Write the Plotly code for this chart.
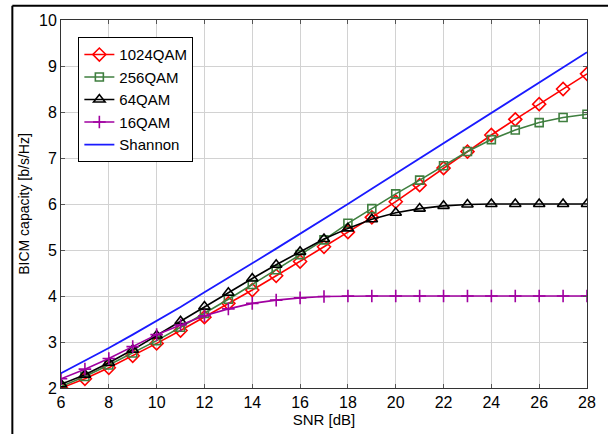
import plotly.graph_objects as go

# SNR grid in dB
snr_db = list(range(6, 29))

# BICM capacity in b/s/Hz for each constellation, plus the Shannon bound
cap_1024qam = [2.00, 2.20, 2.44, 2.70, 2.97, 3.25, 3.54, 3.84, 4.13, 4.44, 4.75, 5.07,
               5.39, 5.71, 6.05, 6.41, 6.78, 7.14, 7.50, 7.84, 8.17, 8.50, 8.83]
cap_256qam = [2.03, 2.25, 2.50, 2.76, 3.03, 3.32, 3.62, 3.93, 4.25, 4.57, 4.90, 5.22,
              5.58, 5.90, 6.22, 6.52, 6.83, 7.14, 7.40, 7.61, 7.77, 7.88, 7.95]
cap_64qam = [2.08, 2.29, 2.55, 2.83, 3.14, 3.45, 3.77, 4.07, 4.38, 4.68, 4.96, 5.24,
             5.47, 5.67, 5.81, 5.90, 5.96, 5.99, 6.00, 6.00, 6.00, 6.00, 6.00]
cap_16qam = [2.20, 2.41, 2.64, 2.90, 3.16, 3.37, 3.57, 3.72, 3.84, 3.91, 3.96, 3.99,
             4.00, 4.00, 4.00, 4.00, 4.00, 4.00, 4.00, 4.00, 4.00, 4.00, 4.00]
cap_shannon = [2.32, 2.59, 2.87, 3.16, 3.46, 3.76, 4.08, 4.39, 4.71, 5.03, 5.35, 5.68,
               6.00, 6.33, 6.66, 6.99, 7.32, 7.65, 7.98, 8.31, 8.64, 8.97, 9.30]

x_ticks = list(range(6, 29, 2))
y_ticks = list(range(2, 11))

FONT = '"Liberation Sans", Arial, sans-serif'

fig = go.Figure()

fig.add_trace(go.Scatter(
    x=snr_db, y=cap_1024qam, name="1024QAM", mode="lines+markers",
    line=dict(color="#ff0000", width=1.6),
    marker=dict(symbol="diamond-open", size=10, color="#ff0000", line=dict(width=1.6)),
))
fig.add_trace(go.Scatter(
    x=snr_db, y=cap_256qam, name="256QAM", mode="lines+markers",
    line=dict(color="#3f7f3f", width=1.6),
    marker=dict(symbol="square-open", size=8, color="#3f7f3f", line=dict(width=1.6)),
))
fig.add_trace(go.Scatter(
    x=snr_db, y=cap_64qam, name="64QAM", mode="lines+markers",
    line=dict(color="#000000", width=1.6),
    marker=dict(symbol="triangle-up-open", size=10, color="#000000", line=dict(width=1.6)),
))
fig.add_trace(go.Scatter(
    x=snr_db, y=cap_16qam, name="16QAM", mode="lines+markers",
    line=dict(color="#a000a0", width=1.6),
    marker=dict(symbol="cross-thin-open", size=9, color="#a000a0", line=dict(width=1.6, color="#a000a0")),
))
fig.add_trace(go.Scatter(
    x=snr_db, y=cap_shannon, name="Shannon", mode="lines",
    line=dict(color="#1a1aff", width=1.8),
))

axis_common = dict(
    showgrid=True, gridcolor="#d2d2d2", gridwidth=1,
    showline=True, linecolor="#333333", linewidth=1, mirror="allticks",
    ticks="inside", ticklen=4, tickcolor="#555555", tickwidth=1,
    tickfont=dict(family=FONT, size=16, color="#000000"),
    zeroline=False,
)

fig.update_layout(
    width=608, height=434,
    margin=dict(l=61, r=12, t=20, b=42),
    paper_bgcolor="white", plot_bgcolor="white",
    font=dict(family=FONT, color="#000000"),
    xaxis=dict(
        range=[6, 28], tickvals=x_ticks,
        title=dict(text="SNR [dB]", font=dict(family=FONT, size=15), standoff=0),
        **axis_common,
    ),
    yaxis=dict(
        range=[2, 10], tickvals=y_ticks,
        title=dict(text="BICM capacity [b/s/Hz]", font=dict(family=FONT, size=14), standoff=6),
        **axis_common,
    ),
    legend=dict(
        x=0.033, y=0.953, xanchor="left", yanchor="top",
        bordercolor="#000000", borderwidth=1, bgcolor="white",
        font=dict(family=FONT, size=15, color="#000000"),
        tracegroupgap=0, itemwidth=30,
    ),
    showlegend=True,
    shapes=[
        # figure frame: left and top edges
        dict(type="line", xref="paper", yref="paper",
             x0=-0.0925, x1=-0.0925, y0=1.039, y1=-0.2, line=dict(color="#000000", width=2)),
        dict(type="line", xref="paper", yref="paper",
             x0=-0.0925, x1=1.05, y0=1.039, y1=1.039, line=dict(color="#000000", width=2)),
    ],
)

fig.write_html("out.html")
